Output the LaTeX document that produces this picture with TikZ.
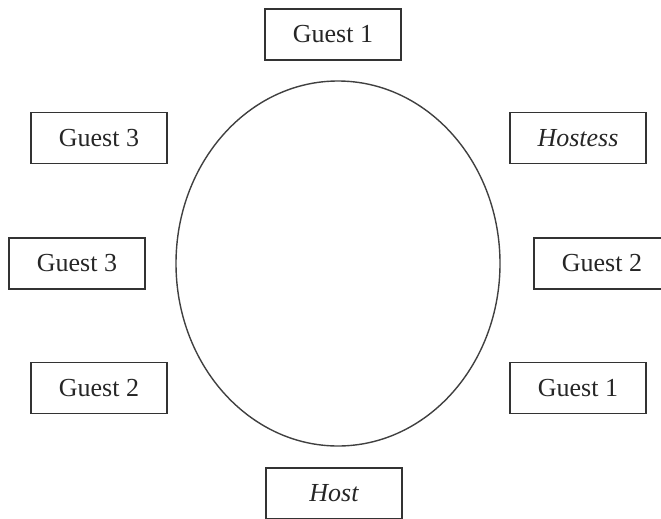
\documentclass[tikz,border=0pt]{standalone}
\usepackage{fontspec}
\setmainfont{Liberation Serif}
\begin{document}
\begin{tikzpicture}[x=1pt,y=-1pt,
  seat/.style={draw=black!80, line width=1.5pt, minimum width=136pt, minimum height=51pt,
    inner sep=0pt, font=\fontsize{26}{30}\selectfont, text=black!85},
  tablerim/.style={draw=black!75, line width=1.4pt}]
  \useasboundingbox (0,0) rectangle (661,519);
  % round table
  \draw[tablerim] (338,263.5) ellipse [x radius=162, y radius=182.5];
  % seats around the table
  \node[seat] (g1top)   at (333,34.5)  {Guest 1};
  \node[seat] (g3up)    at (99,138)    {Guest 3};
  \node[seat] (hostess) at (578,138)   {\itshape Hostess};
  \node[seat] (g3left)  at (77,263.5)  {Guest 3};
  \node[seat] (g2right) at (602,263.5) {Guest 2};
  \node[seat] (g2low)   at (99,388)    {Guest 2};
  \node[seat] (g1low)   at (578,388)   {Guest 1};
  \node[seat] (host)    at (334,493.5) {\itshape Host};
\end{tikzpicture}
\end{document}
